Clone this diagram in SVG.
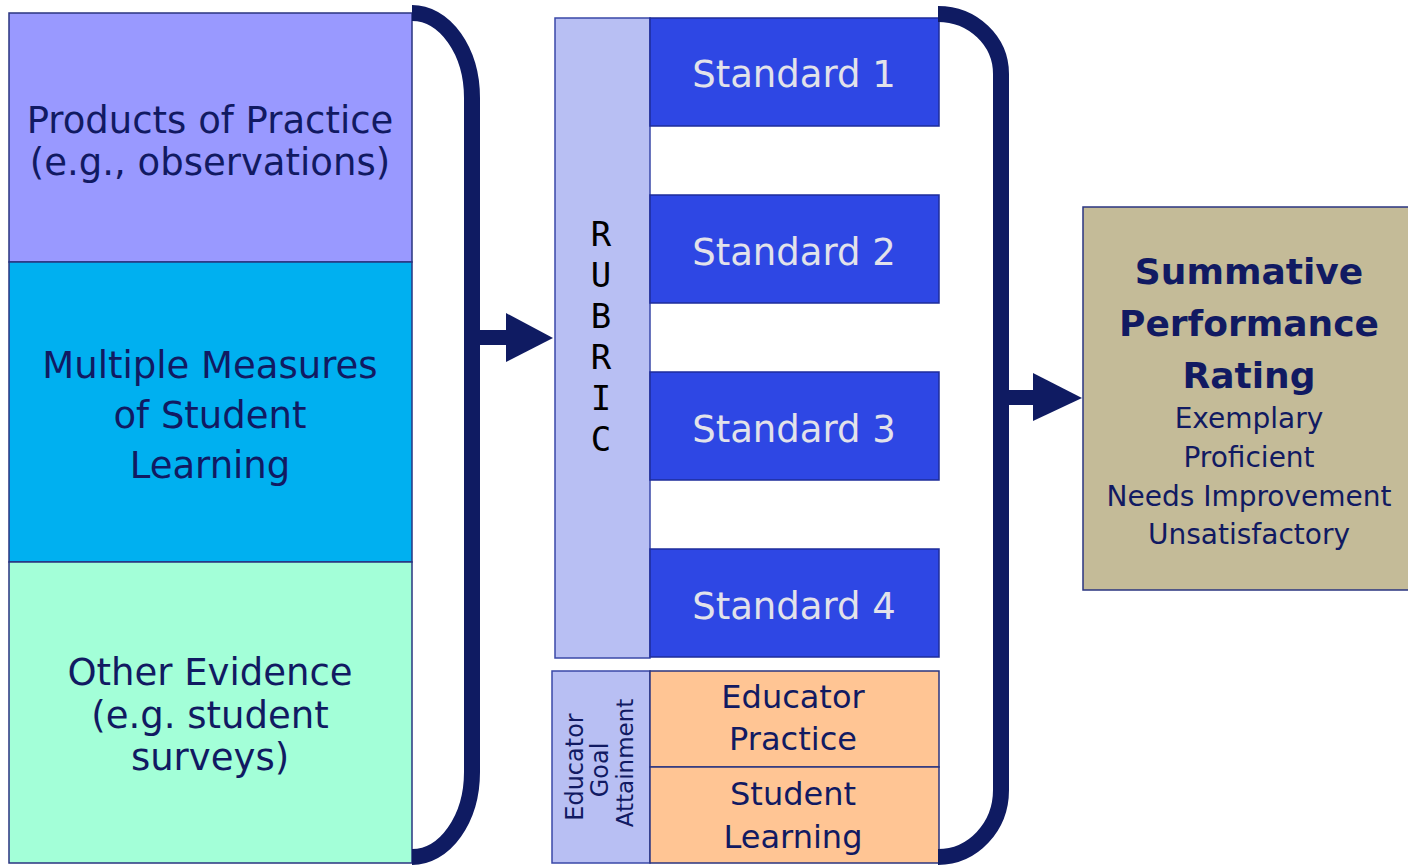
<svg xmlns="http://www.w3.org/2000/svg" width="1408" height="866" viewBox="0 0 1408 866">
<style>
.t{font-family:"DejaVu Sans","Verdana",sans-serif;fill:#111A62;text-anchor:middle}
.std rect{fill:#2E47E4;stroke:#1E2C9A;stroke-width:1.5}
.std text{font-family:"DejaVu Sans",sans-serif;font-size:37px;fill:#E2E2EA;text-anchor:middle}
.box{stroke:#2A3480;stroke-width:1.5}
.br{fill:none;stroke:#0F1B62;stroke-width:16}
.ar{fill:#0F1B62}
.rb{font-family:"DejaVu Sans Mono",monospace;font-size:34px;fill:#000000;text-anchor:middle}
</style>
<rect width="1408" height="866" fill="#FFFFFF"/>
<g id="products">
<rect class="box" x="9" y="13" width="403" height="249" fill="#9999FF"/>
<text class="t" font-size="37" x="210" y="133">Products of Practice</text>
<text class="t" font-size="37" x="210" y="175">(e.g., observations)</text>
</g>
<g id="measures">
<rect class="box" x="9" y="262" width="403" height="300" fill="#00B0F0"/>
<text class="t" font-size="37" x="210" y="378">Multiple Measures</text>
<text class="t" font-size="37" x="210" y="428">of Student</text>
<text class="t" font-size="37" x="210" y="478">Learning</text>
</g>
<g id="other">
<rect class="box" x="9" y="562" width="403" height="301" fill="#A3FFD8"/>
<text class="t" font-size="37" x="210" y="685">Other Evidence</text>
<text class="t" font-size="37" x="210" y="728">(e.g. student</text>
<text class="t" font-size="37" x="210" y="770">surveys)</text>
</g>
<g id="rubric">
<rect x="555" y="18" width="95" height="640" fill="#B8BFF3" stroke="#3A48A8" stroke-width="1.5"/>
<text class="rb" x="601" y="246">R</text>
<text class="rb" x="601" y="287">U</text>
<text class="rb" x="601" y="328">B</text>
<text class="rb" x="601" y="369">R</text>
<text class="rb" x="601" y="410">I</text>
<text class="rb" x="601" y="451">C</text>
</g>
<g id="standard1" class="std"><rect x="650" y="18" width="289" height="108"/><text x="794" y="87">Standard 1</text></g>
<g id="standard2" class="std"><rect x="650" y="195" width="289" height="108"/><text x="794" y="265">Standard 2</text></g>
<g id="standard3" class="std"><rect x="650" y="372" width="289" height="108"/><text x="794" y="442">Standard 3</text></g>
<g id="standard4" class="std"><rect x="650" y="549" width="289" height="108"/><text x="794" y="619">Standard 4</text></g>
<g id="goal">
<rect x="552" y="671" width="98" height="192" fill="#B8BFF3" stroke="#3A48A8" stroke-width="1.5"/>
<text class="t" font-size="24" transform="translate(583,767) rotate(-90)">Educator</text>
<text class="t" font-size="24" transform="translate(608,770) rotate(-90)">Goal</text>
<text class="t" font-size="23" transform="translate(633,763) rotate(-90)">Attainment</text>
</g>
<g id="educator-practice">
<rect class="box" x="650" y="671" width="289" height="96" fill="#FFC594"/>
<text class="t" font-size="32" x="793" y="708">Educator</text>
<text class="t" font-size="32" x="793" y="750">Practice</text>
</g>
<g id="student-learning">
<rect class="box" x="650" y="767" width="289" height="96" fill="#FFC594"/>
<text class="t" font-size="32" x="793" y="805">Student</text>
<text class="t" font-size="32" x="793" y="848">Learning</text>
</g>
<g id="summative">
<rect x="1083" y="207" width="340" height="383" fill="#C4BB98" stroke="#2A3480" stroke-width="1.5"/>
<text class="t" font-size="36" font-weight="bold" x="1249" y="284">Summative</text>
<text class="t" font-size="36" font-weight="bold" x="1249" y="336">Performance</text>
<text class="t" font-size="36" font-weight="bold" x="1249" y="388">Rating</text>
<text class="t" font-size="28" x="1249" y="428">Exemplary</text>
<text class="t" font-size="28" x="1249" y="467">Proficient</text>
<text class="t" font-size="28" x="1249" y="506">Needs Improvement</text>
<text class="t" font-size="28" x="1249" y="544">Unsatisfactory</text>
</g>
<g id="connectors">
<path class="br" d="M 412 13 A 60 85 0 0 1 472 98 L 472 772 A 60 85 0 0 1 412 857"/>
<rect class="ar" x="472" y="330" width="36" height="15"/>
<polygon class="ar" points="506,313 553,338 506,362"/>
<path class="br" d="M 938 14 A 63 60 0 0 1 1001 74 L 1001 790 A 63 67 0 0 1 938 857"/>
<rect class="ar" x="1001" y="390" width="34" height="15"/>
<polygon class="ar" points="1033,373 1082,398 1033,421"/>
</g>
</svg>
